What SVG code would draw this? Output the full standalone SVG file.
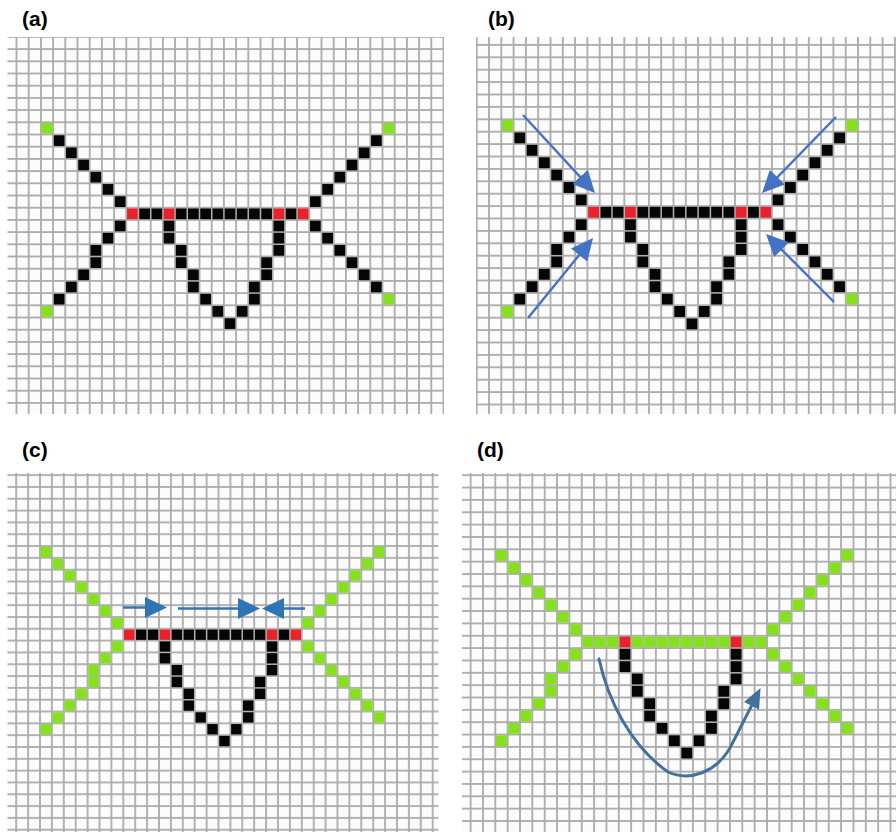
<svg xmlns="http://www.w3.org/2000/svg" width="896" height="832" viewBox="0 0 896 832">
<style>
.lbl{font-family:"Liberation Sans",Arial,sans-serif;font-weight:bold;font-size:21px;fill:#000}
.blk{fill:#060606}.grn{fill:#84e11b}.red{fill:#e8212b}
.arB{stroke:#4472c4;stroke-width:2.4;fill:none}
.arC{stroke:#2e75b6;stroke-width:2.6;fill:none}
.arD{stroke:#41719c;stroke-width:3;fill:none;stroke-linecap:round}
</style>
<defs>
<pattern id="gridA" patternUnits="userSpaceOnUse" x="16.5" y="36.9" width="12.2" height="12.2"><rect width="12.2" height="12.2" fill="#ababab"/><rect x=".9" y=".9" width="10.4" height="10.4" fill="#fcfcfc"/></pattern>
<pattern id="gridB" patternUnits="userSpaceOnUse" x="476.7" y="32.5" width="12.3" height="12.4"><rect width="12.3" height="12.4" fill="#ababab"/><rect x=".9" y=".9" width="10.5" height="10.6" fill="#fcfcfc"/></pattern>
<pattern id="gridC" patternUnits="userSpaceOnUse" x="16.2" y="463.3" width="11.9" height="11.82"><rect width="11.9" height="11.82" fill="#ababab"/><rect x=".9" y=".9" width="10.1" height="10.02" fill="#fcfcfc"/></pattern>
<pattern id="gridD" patternUnits="userSpaceOnUse" x="470.6" y="462.85" width="12.35" height="12.35"><rect width="12.35" height="12.35" fill="#ababab"/><rect x=".9" y=".9" width="10.55" height="10.55" fill="#fcfcfc"/></pattern>
<rect id="u" width=".88" height=".88"/>
<g id="diag">
<use href="#u" x="3.06" y="8.06"/><use href="#u" x="4.06" y="9.06"/><use href="#u" x="5.06" y="10.06"/><use href="#u" x="6.06" y="11.06"/><use href="#u" x="7.06" y="12.06"/><use href="#u" x="8.06" y="13.06"/>
<use href="#u" x="8.06" y="15.06"/><use href="#u" x="7.06" y="16.06"/><use href="#u" x="6.06" y="17.06"/><use href="#u" x="6.06" y="18.06"/><use href="#u" x="5.06" y="19.06"/><use href="#u" x="4.06" y="20.06"/><use href="#u" x="3.06" y="21.06"/>
<use href="#u" x="29.06" y="8.06"/><use href="#u" x="28.06" y="9.06"/><use href="#u" x="27.06" y="10.06"/><use href="#u" x="26.06" y="11.06"/><use href="#u" x="25.06" y="12.06"/><use href="#u" x="24.06" y="13.06"/>
<use href="#u" x="24.06" y="15.06"/><use href="#u" x="25.06" y="16.06"/><use href="#u" x="26.06" y="17.06"/><use href="#u" x="27.06" y="18.06"/><use href="#u" x="28.06" y="19.06"/><use href="#u" x="29.06" y="20.06"/>
</g>
<g id="ends"><use href="#u" x="2.06" y="7.06"/><use href="#u" x="2.06" y="22.06"/><use href="#u" x="30.06" y="7.06"/><use href="#u" x="30.06" y="21.06"/></g>
<g id="bar"><use href="#u" x="10.06" y="14.06"/><use href="#u" x="11.06" y="14.06"/><use href="#u" x="13.06" y="14.06"/><use href="#u" x="14.06" y="14.06"/><use href="#u" x="15.06" y="14.06"/><use href="#u" x="16.06" y="14.06"/><use href="#u" x="17.06" y="14.06"/><use href="#u" x="18.06" y="14.06"/><use href="#u" x="19.06" y="14.06"/><use href="#u" x="20.06" y="14.06"/><use href="#u" x="22.06" y="14.06"/></g>
<g id="vee"><use href="#u" x="12.06" y="15.06"/><use href="#u" x="12.06" y="16.06"/><use href="#u" x="13.06" y="17.06"/><use href="#u" x="13.06" y="18.06"/><use href="#u" x="14.06" y="19.06"/><use href="#u" x="14.06" y="20.06"/><use href="#u" x="15.06" y="21.06"/><use href="#u" x="16.06" y="22.06"/><use href="#u" x="17.06" y="23.06"/><use href="#u" x="18.06" y="22.06"/><use href="#u" x="19.06" y="21.06"/><use href="#u" x="19.06" y="20.06"/><use href="#u" x="20.06" y="19.06"/><use href="#u" x="20.06" y="18.06"/><use href="#u" x="21.06" y="17.06"/><use href="#u" x="21.06" y="16.06"/><use href="#u" x="21.06" y="15.06"/></g>
<g id="inner"><use href="#u" x="12.06" y="14.06"/><use href="#u" x="21.06" y="14.06"/></g>
<g id="outer"><use href="#u" x="9.06" y="14.06"/><use href="#u" x="23.06" y="14.06"/></g>
<marker id="hB" markerUnits="userSpaceOnUse" viewBox="0 0 23 21" markerWidth="23" markerHeight="21" refX="12" refY="10.5" orient="auto"><path d="M0,0 L22,10.5 L0,21 Z" fill="#4472c4"/></marker>
<marker id="hC" markerUnits="userSpaceOnUse" viewBox="0 0 23 21" markerWidth="23" markerHeight="21" refX="12" refY="10.5" orient="auto"><path d="M0,0 L22,10.5 L0,21 Z" fill="#2e75b6"/></marker>
<marker id="hD" markerUnits="userSpaceOnUse" viewBox="0 0 21 17" markerWidth="21" markerHeight="17" refX="10" refY="8.5" orient="auto"><path d="M0,0 L20,8.5 L0,17 Z" fill="#41719c"/></marker>
</defs>
<rect width="896" height="832" fill="#fff"/>

<g id="panel-a">
<rect x="7.5" y="37" width="436.5" height="377" fill="url(#gridA)"/>
<g transform="translate(16.5,36.9) scale(12.2)">
<use href="#diag" class="blk"/><use href="#bar" class="blk"/><use href="#vee" class="blk"/>
<use href="#ends" class="grn"/><use href="#inner" class="red"/><use href="#outer" class="red"/>
</g>
<text class="lbl" x="22" y="26">(a)</text>
</g>

<g id="panel-b">
<rect x="476" y="37" width="420" height="377" fill="url(#gridB)"/>
<g transform="translate(476.7,32.5) scale(12.3,12.4)">
<use href="#diag" class="blk"/><use href="#bar" class="blk"/><use href="#vee" class="blk"/>
<use href="#ends" class="grn"/><use href="#inner" class="red"/><use href="#outer" class="red"/>
</g>
<text class="lbl" x="488" y="26">(b)</text>
</g>

<g id="panel-c">
<rect x="7.5" y="473" width="431" height="359" fill="url(#gridC)"/>
<g transform="translate(16.2,463.3) scale(11.9,11.82)">
<use href="#diag" class="grn"/><use href="#bar" class="blk"/><use href="#vee" class="blk"/>
<use href="#ends" class="grn"/><use href="#inner" class="red"/><use href="#outer" class="red"/>
</g>
<text class="lbl" x="22" y="457">(c)</text>
</g>

<g id="panel-d">
<rect x="462" y="473" width="434" height="359" fill="url(#gridD)"/>
<g transform="translate(470.6,462.85) scale(12.35)">
<use href="#diag" class="grn"/><use href="#bar" class="grn"/><use href="#vee" class="blk"/>
<use href="#ends" class="grn"/><use href="#inner" class="red"/><use href="#outer" class="grn"/>
</g>
<text class="lbl" x="477" y="457">(d)</text>
</g>

<g id="connectors">
<path class="arB" d="M523,115 L588.2,185.6" marker-end="url(#hB)"/>
<path class="arB" d="M528,318 L586.7,245.8" marker-end="url(#hB)"/>
<path class="arB" d="M836,117 L769,185.8" marker-end="url(#hB)"/>
<path class="arB" d="M834,302 L773.1,241.1" marker-end="url(#hB)"/>
<path class="arC" d="M123,607.5 H157" marker-end="url(#hC)"/>
<path class="arC" d="M178,608.5 H250" marker-end="url(#hC)"/>
<path class="arC" d="M305,608.5 H272" marker-end="url(#hC)"/>
<path class="arD" d="M599,659 C608,700 630,745 668,772 C690,782 716,772 730,748 L756,697" marker-end="url(#hD)"/>
</g>
</svg>
